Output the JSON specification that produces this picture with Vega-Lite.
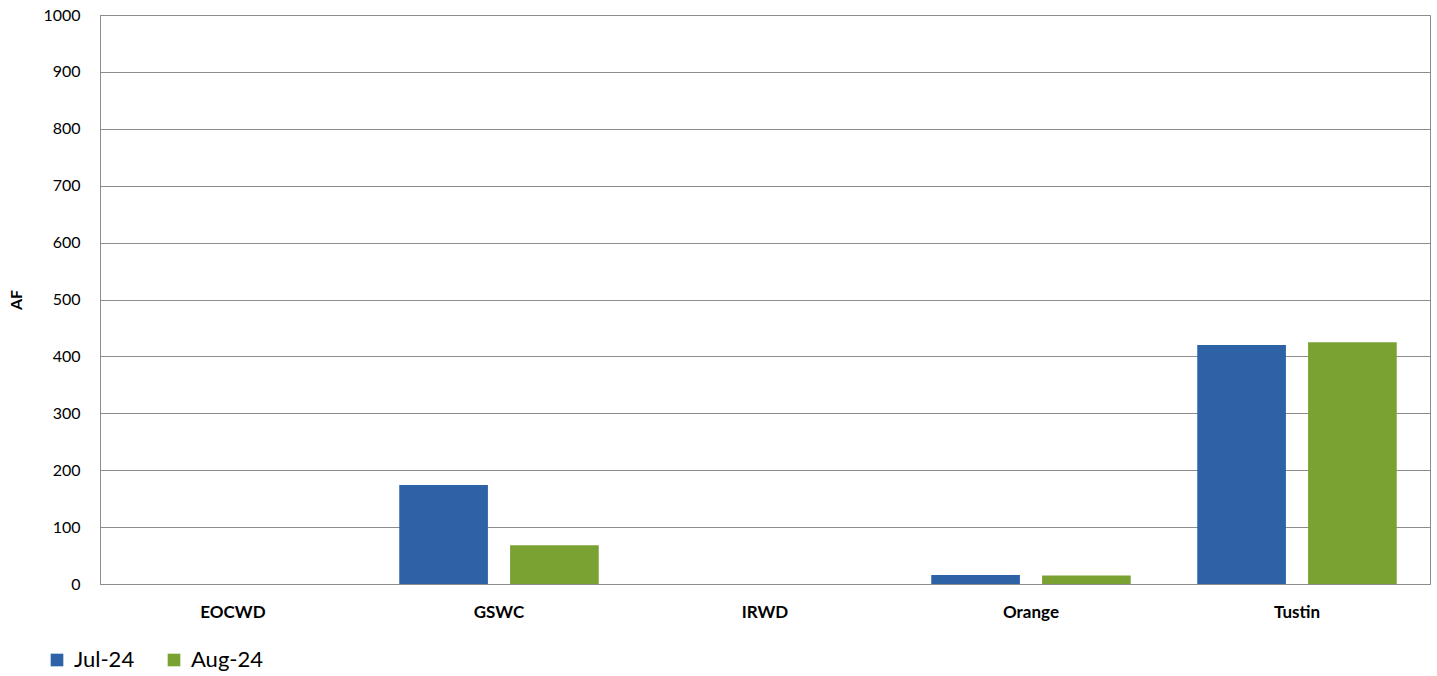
{
  "$schema": "https://vega.github.io/schema/vega-lite/v6.json",
  "autosize": {"type": "none"},
  "width": 1330,
  "height": 569,
  "padding": {"left": 100, "top": 15, "right": 7, "bottom": 92},
  "background": "white",
  "data": {
    "values": [
      {"agency": "EOCWD", "month": "Jul-24", "af": 0},
      {"agency": "EOCWD", "month": "Aug-24", "af": 0},
      {"agency": "GSWC", "month": "Jul-24", "af": 174},
      {"agency": "GSWC", "month": "Aug-24", "af": 68},
      {"agency": "IRWD", "month": "Jul-24", "af": 0},
      {"agency": "IRWD", "month": "Aug-24", "af": 0},
      {"agency": "Orange", "month": "Jul-24", "af": 16},
      {"agency": "Orange", "month": "Aug-24", "af": 15},
      {"agency": "Tustin", "month": "Jul-24", "af": 420},
      {"agency": "Tustin", "month": "Aug-24", "af": 425}
    ]
  },
  "config": {
    "font": "Lato",
    "view": {"stroke": "#8c8c8c", "strokeWidth": 1}
  },
  "mark": {"type": "bar"},
  "encoding": {
    "x": {
      "field": "agency",
      "type": "nominal",
      "sort": ["EOCWD", "GSWC", "IRWD", "Orange", "Tustin"],
      "scale": {"paddingInner": 0.25, "paddingOuter": 0.125},
      "axis": {
        "title": null,
        "labelAngle": 0,
        "labelFont": "Lato",
        "labelFontWeight": "bold",
        "labelFontSize": 17,
        "labelColor": "#000000",
        "labelPadding": 20,
        "ticks": false,
        "domain": false
      }
    },
    "xOffset": {
      "field": "month",
      "type": "nominal",
      "sort": ["Jul-24", "Aug-24"],
      "scale": {"paddingInner": 0.2, "paddingOuter": 0}
    },
    "y": {
      "field": "af",
      "type": "quantitative",
      "scale": {"domain": [0, 1000], "nice": false},
      "axis": {
        "title": "AF",
        "titleFont": "Lato",
        "titleFontWeight": "bold",
        "titleFontSize": 16,
        "titleColor": "#000000",
        "titlePadding": 18,
        "format": "d",
        "values": [0, 100, 200, 300, 400, 500, 600, 700, 800, 900, 1000],
        "labelFont": "Lato",
        "labelFontSize": 16,
        "labelColor": "#000000",
        "labelPadding": 20,
        "ticks": false,
        "domain": true,
        "domainColor": "#8c8c8c",
        "grid": true,
        "gridColor": "#8c8c8c",
        "gridWidth": 1
      }
    },
    "color": {
      "field": "month",
      "type": "nominal",
      "sort": ["Jul-24", "Aug-24"],
      "scale": {"domain": ["Jul-24", "Aug-24"], "range": ["#2d62a6", "#7aa233"]},
      "legend": {
        "title": null,
        "orient": "none",
        "legendX": -54,
        "legendY": 634,
        "direction": "horizontal",
        "symbolType": "square",
        "symbolSize": 160,
        "symbolStrokeWidth": 0,
        "labelFont": "Lato",
        "labelFontSize": 22,
        "labelColor": "#000000",
        "labelOffset": 6,
        "columnPadding": 28
      }
    }
  }
}
